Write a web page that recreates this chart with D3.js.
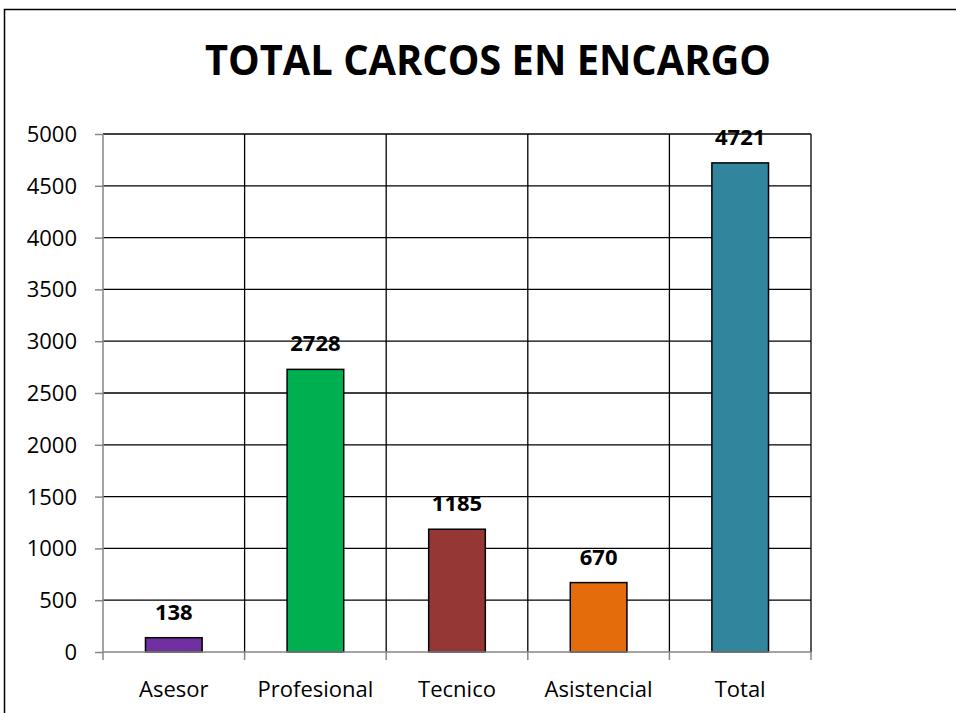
<!DOCTYPE html>
<html>
<head>
<meta charset="utf-8">
<script src="https://cdn.jsdelivr.net/npm/d3@7"></script>
<style>
  body { margin: 0; background: #fff; }
  svg { display: block; }
  text { font-family: "Open Sans", sans-serif; }
</style>
</head>
<body>
<svg id="chart" width="956" height="713"></svg>
<script>
const categories = ['Asesor', 'Profesional', 'Tecnico', 'Asistencial', 'Total']
const values = [138, 2728, 1185, 670, 4721]
const colors = ['#7030A0', '#00B050', '#953735', '#E46C0A', '#31859C']
const yTicks = [0, 500, 1000, 1500, 2000, 2500, 3000, 3500, 4000, 4500, 5000]
const title = 'TOTAL CARCOS EN ENCARGO'

const svg = d3.select('#chart')
const W = 956, H = 713
const m = { left: 103, right: 811, top: 134, bottom: 652 }

// outer chart frame (runs off the picture at right and bottom)
svg.append('rect')
  .attr('x', 4.5).attr('y', 9.5)
  .attr('width', W + 20).attr('height', H + 20)
  .attr('fill', 'none').attr('stroke', '#000').attr('stroke-width', 1.5)

svg.append('text')
  .attr('x', 205).attr('y', 75)
  .attr('font-size', 41).attr('font-weight', 'bold')
  .attr('textLength', 566).attr('lengthAdjust', 'spacingAndGlyphs')
  .text(title)

const x = d3.scaleBand().domain(categories).range([m.left, m.right]).paddingInner(0).paddingOuter(0)
const y = d3.scaleLinear().domain([0, 5000]).range([m.bottom, m.top])

const g = svg.append('g')

// horizontal grid
g.selectAll('.hgrid').data(yTicks.filter(d => d > 0)).enter().append('line')
  .attr('x1', m.left).attr('x2', m.right)
  .attr('y1', d => y(d)).attr('y2', d => y(d))
  .attr('stroke', '#000').attr('stroke-width', 1.3)

// vertical grid at category boundaries
const bounds = categories.map(c => x(c) + x.bandwidth())
g.selectAll('.vgrid').data(bounds).enter().append('line')
  .attr('x1', d => d).attr('x2', d => d)
  .attr('y1', m.top).attr('y2', m.bottom)
  .attr('stroke', '#000').attr('stroke-width', 1.3)

// bars
const bw = x.bandwidth() * 0.4
g.selectAll('.bar').data(values).enter().append('rect')
  .attr('x', (d, i) => x(categories[i]) + (x.bandwidth() - bw) / 2)
  .attr('y', d => y(d))
  .attr('width', bw)
  .attr('height', d => y(0) - y(d))
  .attr('fill', (d, i) => colors[i])
  .attr('stroke', '#000').attr('stroke-width', 1.5)

// value labels
g.selectAll('.lbl').data(values).enter().append('text')
  .attr('x', (d, i) => x(categories[i]) + x.bandwidth() / 2)
  .attr('y', d => y(d) - 18)
  .attr('text-anchor', 'middle')
  .attr('font-size', 22).attr('font-weight', 'bold')
  .text(d => d)

// y axis
const yAxis = svg.append('g')
  .attr('transform', `translate(${m.left},0)`)
  .call(d3.axisLeft(y).tickValues(yTicks).tickSize(8).tickPadding(18).tickFormat(d3.format('d')))
yAxis.selectAll('line, path').attr('stroke', '#868686').attr('stroke-width', 1.5)
yAxis.select('.domain').attr('d', `M0,${m.top}V${m.bottom}`)
yAxis.selectAll('text')
  .attr('font-size', 22).attr('fill', '#000')
  .attr('font-family', '"Open Sans", sans-serif')
  .attr('dy', 7.5)

// x axis with ticks at category boundaries
const xAxis = svg.append('g').attr('transform', `translate(0,${m.bottom})`)
xAxis.append('line')
  .attr('x1', m.left).attr('x2', m.right)
  .attr('stroke', '#868686').attr('stroke-width', 1.5)
xAxis.selectAll('.tk').data([m.left].concat(bounds)).enter().append('line')
  .attr('x1', d => d).attr('x2', d => d)
  .attr('y1', 0).attr('y2', 8)
  .attr('stroke', '#868686').attr('stroke-width', 1.5)
xAxis.selectAll('.cat').data(categories).enter().append('text')
  .attr('x', d => x(d) + x.bandwidth() / 2)
  .attr('y', 45)
  .attr('text-anchor', 'middle')
  .attr('font-size', 22)
  .text(d => d)
</script>
</body>
</html>
